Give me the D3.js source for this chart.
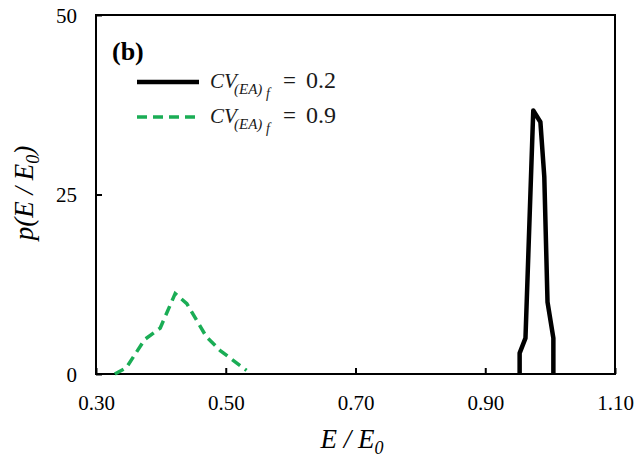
<!DOCTYPE html>
<html><head><meta charset="utf-8">
<script src="https://cdn.jsdelivr.net/npm/d3@7"></script>
<style>body{margin:0;background:#fff}svg{display:block}</style>
</head><body>
<svg id="c" width="641" height="461"></svg>
<script>
// Data
const seriesA_x = [0.953, 0.953, 0.962, 0.974, 0.985, 0.991, 0.996, 1.005, 1.005];
const seriesA_y = [0, 2.9, 5.0, 36.7, 35.1, 27.5, 10.0, 5.0, 0];
const seriesB_x = [0.329, 0.347, 0.375, 0.399, 0.422, 0.440, 0.470, 0.491, 0.532];
const seriesB_y = [0, 0.9, 4.8, 6.4, 11.2, 9.8, 5.2, 3.3, 0.5];
const xTicks = [0.30, 0.50, 0.70, 0.90, 1.10];
const yTicks = [0, 25, 50];
const legendValues = ["0.2", "0.9"];

const svg = d3.select("#c");
const L = 96, R = 615, T = 15, B = 374;
const x = d3.scaleLinear().domain([0.3, 1.1]).range([L, R]);
const y = d3.scaleLinear().domain([0, 50]).range([B, T]);
const serif = "Liberation Serif, Times New Roman, serif";

// frame
svg.append("rect").attr("x", L).attr("y", T).attr("width", R - L).attr("height", B - T)
  .attr("fill", "none").attr("stroke", "#000").attr("stroke-width", 2);

// axes (inside ticks)
const xAxis = d3.axisBottom(x).tickValues(xTicks).tickSizeInner(-6).tickSizeOuter(0)
  .tickFormat(d3.format(".2f"));
const gx = svg.append("g").attr("transform", `translate(0,${B})`).call(xAxis);
gx.select(".domain").remove();
gx.selectAll(".tick line").attr("stroke", "#000").attr("stroke-width", 2);
gx.selectAll(".tick text").attr("font-family", serif).attr("font-size", 21)
  .attr("fill", "#000").attr("dy", null).attr("y", 36);

const yAxis = d3.axisLeft(y).tickValues(yTicks).tickSizeInner(-6).tickSizeOuter(0)
  .tickFormat(d3.format("d"));
const gy = svg.append("g").attr("transform", `translate(${L},0)`).call(yAxis);
gy.select(".domain").remove();
gy.selectAll(".tick line").attr("stroke", "#000").attr("stroke-width", 2);
gy.selectAll(".tick text").attr("font-family", serif).attr("font-size", 21)
  .attr("fill", "#000").attr("x", -19).attr("dy", "0.34em");

// lines
const lineA = d3.line().x((d, i) => x(seriesA_x[i])).y((d, i) => y(seriesA_y[i]));
const lineB = d3.line().x((d, i) => x(seriesB_x[i])).y((d, i) => y(seriesB_y[i]));
svg.append("path").attr("d", lineB(seriesB_y)).attr("fill", "none")
  .attr("stroke", "#1aad55").attr("stroke-width", 3.5).attr("stroke-dasharray", "10,6");
svg.append("path").attr("d", lineA(seriesA_y)).attr("fill", "none")
  .attr("stroke", "#000").attr("stroke-width", 4.5).attr("stroke-linejoin", "round");

// panel label
svg.append("text").attr("x", 112).attr("y", 60).attr("font-family", serif)
  .attr("font-size", 26).attr("font-weight", "bold").text("(b)");

// legend
const legColors = ["#000", "#1aad55"];
const legY = [82, 117];
legendValues.forEach((v, i) => {
  const ln = svg.append("line").attr("x1", 137).attr("x2", 199).attr("y1", legY[i]).attr("y2", legY[i])
    .attr("stroke", legColors[i]).attr("stroke-width", i === 0 ? 4.5 : 3.5);
  if (i === 1) ln.attr("stroke-dasharray", "10,6");
  const base = legY[i] + 6;
  const g = svg.append("g").attr("font-family", serif).attr("fill", "#1a1a1a");
  g.append("text").attr("x", 210).attr("y", base).attr("font-size", 21)
    .attr("font-style", "italic").text("CV");
  g.append("text").attr("x", 234).attr("y", base + 6).attr("font-size", 15)
    .attr("font-style", "italic").text("(EA)");
  g.append("text").attr("x", 266).attr("y", base + 10).attr("font-size", 14)
    .attr("font-style", "italic").text("f");
  g.append("text").attr("x", 283).attr("y", base).attr("font-size", 23).text("=");
  g.append("text").attr("x", 306).attr("y", base).attr("font-size", 24).text(v);
});

// axis titles
const xt = svg.append("text").attr("x", 352).attr("y", 448).attr("text-anchor", "middle")
  .attr("font-family", serif).attr("font-size", 27).attr("font-style", "italic");
xt.append("tspan").text("E / E");
xt.append("tspan").attr("font-size", 18).attr("dy", 6).text("0");

const yt = svg.append("text").attr("transform", "translate(33,193) rotate(-90)")
  .attr("text-anchor", "middle").attr("font-family", serif).attr("font-size", 27)
  .attr("font-style", "italic");
yt.append("tspan").text("p(E / E");
yt.append("tspan").attr("font-size", 18).attr("dy", 6).text("0");
yt.append("tspan").attr("dy", -6).text(")");
</script>
</body></html>
